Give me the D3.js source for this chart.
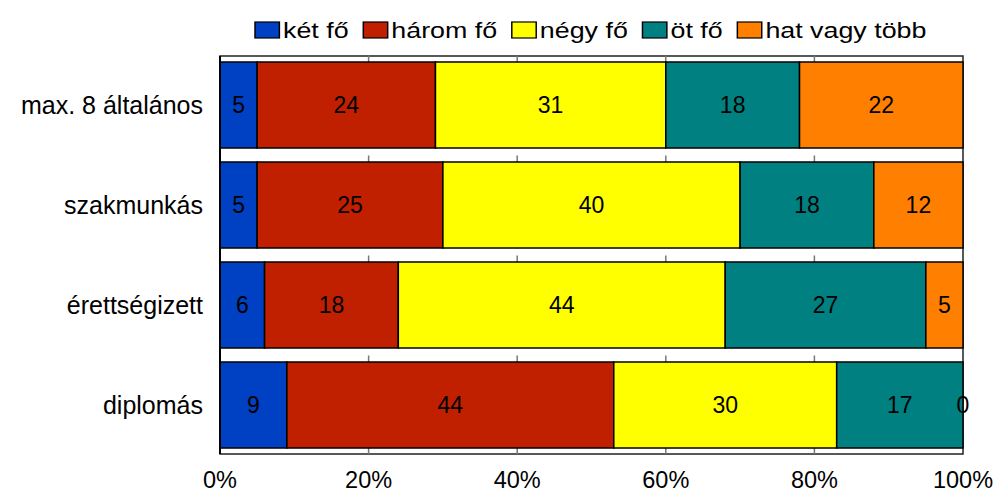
<!DOCTYPE html>
<html>
<head>
<meta charset="utf-8">
<script src="https://cdn.jsdelivr.net/npm/d3@7"></script>
<style>
  body { margin: 0; background: #fff; }
  svg text { font-family: "Liberation Sans", Arial, sans-serif; fill: #000; }
</style>
</head>
<body>
<svg id="chart" width="997" height="491"></svg>
<script>
// data
var categories = ["max. 8 általános", "szakmunkás", "érettségizett", "diplomás"];
var seriesNames = ["két fő", "három fő", "négy fő", "öt fő", "hat vagy több"];
var ketFo = [5, 5, 6, 9];
var haromFo = [24, 25, 18, 44];
var negyFo = [31, 40, 44, 30];
var otFo = [18, 18, 27, 17];
var hatVagyTobb = [22, 12, 5, 0];
var tickValues = [0, 20, 40, 60, 80, 100];

var colors = ["#0040C2", "#C02000", "#FFFF00", "#008080", "#FF8000"];
var seriesValues = [ketFo, haromFo, negyFo, otFo, hatVagyTobb];

var rows = categories.map(function(c, i) {
  var r = { cat: c };
  seriesNames.forEach(function(s, j) { r[s] = seriesValues[j][i]; });
  return r;
});

var svg = d3.select("#chart");
// plot box (note: "top" is reserved on window, so use other names)
var plotL = 220, plotR = 963, plotT = 56, plotB = 454;

var x = d3.scaleLinear().domain([0, 100]).range([plotL, plotR]);
var y = d3.scaleBand().domain(categories).range([plotT - 1, plotB + 1])
  .paddingInner(0.14).paddingOuter(0.07);

var stack = d3.stack().keys(seriesNames)(rows);

// frame
svg.append("rect")
  .attr("x", plotL).attr("y", plotT)
  .attr("width", plotR - plotL).attr("height", plotB - plotT)
  .attr("fill", "none").attr("stroke", "#222").attr("stroke-width", 1.5);

// small ticks sitting on top of each bar and on the axis line
var tickTops = categories.map(function(c) { return y(c); }).concat([plotB]);
tickTops.forEach(function(ty) {
  svg.selectAll(null).data(tickValues.slice(1, -1)).enter()
    .append("line")
    .attr("x1", d => x(d)).attr("x2", d => x(d))
    .attr("y1", ty - 6.5).attr("y2", ty)
    .attr("stroke", "#777").attr("stroke-width", 1.5);
});

// bars
var layers = svg.selectAll("g.layer").data(stack).enter()
  .append("g").attr("class", "layer")
  .attr("fill", (d, i) => colors[i]);

layers.selectAll("rect").data(d => d).enter()
  .append("rect")
  .attr("x", d => x(d[0]))
  .attr("y", d => y(d.data.cat))
  .attr("width", d => x(d[1]) - x(d[0]))
  .attr("height", y.bandwidth())
  .attr("stroke", "#000").attr("stroke-width", 1.5);

// left axis line
svg.append("line")
  .attr("x1", plotL).attr("x2", plotL)
  .attr("y1", plotT).attr("y2", plotB)
  .attr("stroke", "#000").attr("stroke-width", 2);

// value labels
layers.selectAll("text").data(d => d.map(v => ({ v: v, key: d.key }))).enter()
  .append("text")
  .attr("x", d => x((d.v[0] + d.v[1]) / 2))
  .attr("y", d => y(d.v.data.cat) + y.bandwidth() / 2)
  .attr("dy", "0.36em")
  .attr("text-anchor", "middle")
  .attr("fill", "#000")
  .style("font-size", "23px")
  .text(d => d.v.data[d.key]);

// category labels
svg.selectAll("text.cat").data(categories).enter()
  .append("text").attr("class", "cat")
  .attr("x", 203)
  .attr("y", d => y(d) + y.bandwidth() / 2)
  .attr("dy", "0.35em")
  .attr("text-anchor", "end")
  .style("font-size", "25px")
  .text(d => d);

// x axis labels
svg.selectAll("text.tick").data(tickValues).enter()
  .append("text").attr("class", "tick")
  .attr("x", d => x(d))
  .attr("y", 488)
  .attr("text-anchor", "middle")
  .style("font-size", "23.5px")
  .text(d => d + "%");

// legend (horizontally stretched like the original)
var sx = 1.22;
var legend = svg.append("g").attr("transform", "translate(255,0) scale(" + sx + ",1)");
var lx = 0;
seriesNames.forEach(function(name, i) {
  var g = legend.append("g").attr("transform", "translate(" + lx + ",0)");
  g.append("rect")
    .attr("x", 0).attr("y", 22)
    .attr("width", 20).attr("height", 16)
    .attr("fill", colors[i]).attr("stroke", "#000").attr("stroke-width", 1.2);
  var t = g.append("text")
    .attr("x", 23).attr("y", 38)
    .style("font-size", "22px")
    .text(name);
  lx += 23 + t.node().getComputedTextLength() + 12;
});
</script>
</body>
</html>
